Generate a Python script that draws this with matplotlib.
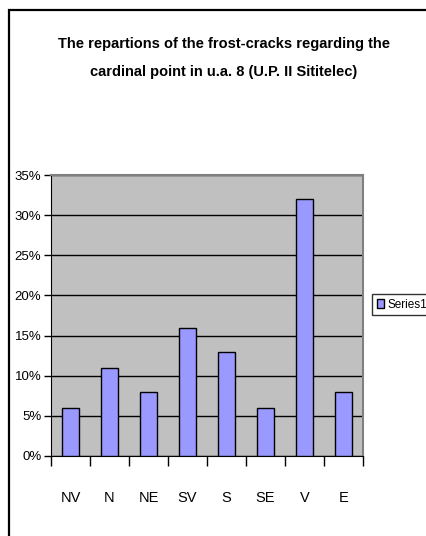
import matplotlib
matplotlib.use("Agg")
import matplotlib.pyplot as plt
from matplotlib.patches import Rectangle
from matplotlib.ticker import FuncFormatter, MultipleLocator, FixedLocator

plt.rcParams['font.family'] = ['Liberation Sans Narrow', 'Liberation Sans', 'DejaVu Sans']

directions = ["NV", "N", "NE", "SV", "S", "SE", "V", "E"]
shares = [6, 11, 8, 16, 13, 6, 32, 8]
series_name = "Series1"
title = "The repartions of the frost-cracks regarding the\ncardinal point in u.a. 8 (U.P. II Sititelec)"

fig = plt.figure(figsize=(4.26, 5.36), dpi=100)

# outer chart frame, cut off at the right and bottom
fig.patches.append(Rectangle((9 / 426, -0.05), 1.2, 1 - 10 / 536 + 0.05,
                             transform=fig.transFigure, fill=False,
                             edgecolor="black", linewidth=1.6))

ax = fig.add_axes([51 / 426, 1 - 456 / 536, 312 / 426, 281 / 536])
ax.set_facecolor("#C0C0C0")

x = list(range(len(directions)))
bars = ax.bar(x, shares, width=0.42, color="#9999FF", edgecolor="black",
              linewidth=1.0, label=series_name, zorder=3)

ax.set_xlim(-0.5, len(directions) - 0.5)
ax.set_ylim(0, 35)
ax.yaxis.set_major_locator(MultipleLocator(5))
ax.yaxis.set_major_formatter(FuncFormatter(lambda v, p: f"{int(v)}%"))
ax.grid(axis="y", color="black", linewidth=1.0, zorder=1)
ax.set_axisbelow(True)

# ticks between categories, labels centred under the bars
ax.xaxis.set_major_locator(FixedLocator([i - 0.5 for i in range(len(directions) + 1)]))
ax.xaxis.set_major_formatter(FuncFormatter(lambda v, p: ""))
ax.xaxis.set_minor_locator(FixedLocator(x))
ax.set_xticklabels(directions, minor=True)
ax.tick_params(axis="x", which="major", direction="out", length=7, width=1)
ax.tick_params(axis="x", which="minor", length=0, pad=25, labelsize=10.5)
ax.tick_params(axis="y", direction="out", length=5, width=1, labelsize=9.5, pad=2)

for side in ("top", "right"):
    ax.spines[side].set_color("#808080")
    ax.spines[side].set_linewidth(1.5)
ax.spines["left"].set_color("black")
ax.spines["bottom"].set_color("black")

fig.text(224 / 426, 1 - 58 / 536, title, ha="center", va="center",
         fontsize=10.5, fontweight="bold", linespacing=2.35)

leg = fig.legend(handles=[bars], labels=[series_name], loc="upper left",
                 bbox_to_anchor=(372 / 426, 1 - 294 / 536), fontsize=8.5,
                 frameon=True, fancybox=False, handlelength=0.6, handleheight=0.8,
                 handletextpad=0.3, borderpad=0.4, borderaxespad=0)
leg.get_frame().set_edgecolor("black")
leg.get_frame().set_linewidth(1.0)

fig.savefig("out.png", dpi=100)
